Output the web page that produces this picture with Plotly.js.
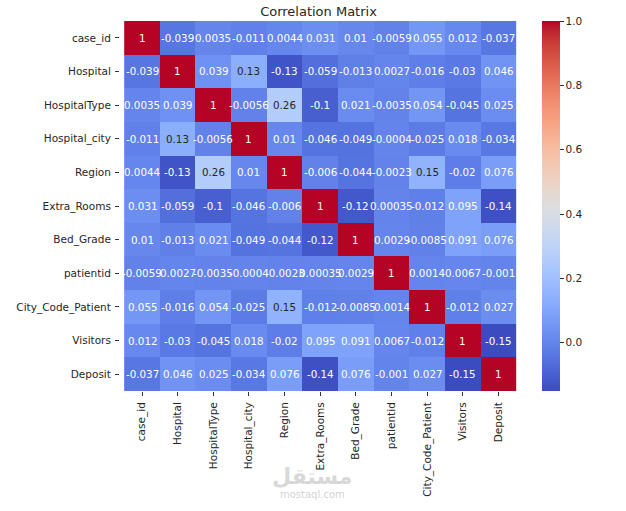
<!DOCTYPE html>
<html>
<head>
<meta charset="utf-8">
<script src="https://cdn.plot.ly/plotly-3.0.1.min.js"></script>
<style>
  html, body { margin: 0; padding: 0; background: #fff; }
  #chart { width: 626px; height: 511px; }
</style>
</head>
<body>
<div id="chart"></div>
<script>
// Feature names (rows and columns of the correlation matrix)
const features = ["case_id", "Hospital", "HospitalType", "Hospital_city", "Region",
  "Extra_Rooms", "Bed_Grade", "patientid", "City_Code_Patient", "Visitors", "Deposit"];

// Correlation coefficients, one row per feature
const rowCaseId       = [1, -0.039, 0.0035, -0.011, 0.0044, 0.031, 0.01, -0.0059, 0.055, 0.012, -0.037];
const rowHospital     = [-0.039, 1, 0.039, 0.13, -0.13, -0.059, -0.013, 0.0027, -0.016, -0.03, 0.046];
const rowHospitalType = [0.0035, 0.039, 1, -0.0056, 0.26, -0.1, 0.021, -0.0035, 0.054, -0.045, 0.025];
const rowHospitalCity = [-0.011, 0.13, -0.0056, 1, 0.01, -0.046, -0.049, -0.0004, -0.025, 0.018, -0.034];
const rowRegion       = [0.0044, -0.13, 0.26, 0.01, 1, -0.006, -0.044, -0.0023, 0.15, -0.02, 0.076];
const rowExtraRooms   = [0.031, -0.059, -0.1, -0.046, -0.006, 1, -0.12, 0.00035, -0.012, 0.095, -0.14];
const rowBedGrade     = [0.01, -0.013, 0.021, -0.049, -0.044, -0.12, 1, 0.0029, -0.0085, 0.091, 0.076];
const rowPatientId    = [-0.0059, 0.0027, -0.0035, -0.0004, -0.0023, 0.00035, 0.0029, 1, 0.0014, 0.0067, -0.001];
const rowCityCode     = [0.055, -0.016, 0.054, -0.025, 0.15, -0.012, -0.0085, 0.0014, 1, -0.012, 0.027];
const rowVisitors     = [0.012, -0.03, -0.045, 0.018, -0.02, 0.095, 0.091, 0.0067, -0.012, 1, -0.15];
const rowDeposit      = [-0.037, 0.046, 0.025, -0.034, 0.076, -0.14, 0.076, -0.001, 0.027, -0.15, 1];

const colorbarTicks = [0, 0.2, 0.4, 0.6, 0.8, 1.0];

const corr = [rowCaseId, rowHospital, rowHospitalType, rowHospitalCity, rowRegion,
  rowExtraRooms, rowBedGrade, rowPatientId, rowCityCode, rowVisitors, rowDeposit];

// Diverging "coolwarm" palette
const coolwarmRGB = [
  [59,76,192],[68,90,204],[77,104,215],[87,117,225],[98,130,234],[108,142,241],
  [119,154,247],[130,165,251],[141,176,254],[152,185,255],[163,194,255],[174,201,253],
  [184,208,249],[194,213,244],[204,217,238],[213,219,230],[221,221,221],[229,216,209],
  [236,211,197],[241,204,185],[245,196,173],[247,187,160],[247,177,148],[247,166,135],
  [244,154,123],[241,141,111],[236,127,99],[229,112,88],[222,96,77],[213,80,66],
  [203,62,56],[192,40,47],[180,4,38]
];
const n = coolwarmRGB.length - 1;
const coolwarm = coolwarmRGB.map((c, i) => [i / n, `rgb(${c[0]},${c[1]},${c[2]})`]);

const zmin = Math.min(...corr.flat());
const zmax = Math.max(...corr.flat());

function colorAt(v) {
  const t = Math.max(0, Math.min(1, (v - zmin) / (zmax - zmin))) * n;
  const i = Math.min(n - 1, Math.floor(t));
  const f = t - i;
  const a = coolwarmRGB[i], b = coolwarmRGB[i + 1];
  return [0, 1, 2].map(k => a[k] + (b[k] - a[k]) * f);
}
function luminance(rgb) {
  const lin = rgb.map(c => {
    c /= 255;
    return c <= 0.03928 ? c / 12.92 : Math.pow((c + 0.055) / 1.055, 2.4);
  });
  return 0.2126 * lin[0] + 0.7152 * lin[1] + 0.0722 * lin[2];
}
function fmt(v) {
  return String(Number(v.toPrecision(2)));
}

const tickFont = { family: "DejaVu Sans", size: 10.5, color: "#262626" };

// Cell value labels, dark text on light cells and white text on dark ones
const annotations = [];
corr.forEach((row, i) => {
  row.forEach((v, j) => {
    annotations.push({
      x: features[j], y: features[i], xref: "x", yref: "y",
      text: fmt(v), showarrow: false,
      font: { family: "DejaVu Sans", size: 10.3,
              color: luminance(colorAt(v)) > 0.408 ? "#262626" : "#ffffff" }
    });
  });
});

// Faint site mark beneath the chart
annotations.push({
  xref: "paper", yref: "paper", x: 0.484, y: -0.232, xanchor: "center", yanchor: "middle",
  text: "<b>مستقل</b>", showarrow: false,
  font: { family: "DejaVu Sans", size: 22, color: "rgba(190,190,190,0.6)" }
});
annotations.push({
  xref: "paper", yref: "paper", x: 0.484, y: -0.281, xanchor: "center", yanchor: "middle",
  text: "mostaql.com", showarrow: false,
  font: { family: "DejaVu Sans", size: 10, color: "rgba(195,195,195,0.75)" }
});

const trace = {
  type: "heatmap",
  x: features,
  y: features,
  z: corr,
  zmin: zmin,
  zmax: zmax,
  colorscale: coolwarm,
  colorbar: {
    thickness: 18,
    len: 1, lenmode: "fraction",
    x: 1.063, xanchor: "left", xpad: 0,
    y: 1, yanchor: "top", ypad: 0,
    outlinewidth: 0,
    tickvals: colorbarTicks,
    ticktext: colorbarTicks.map(v => v.toFixed(1)),
    ticks: "outside", ticklen: 4, tickwidth: 1, tickcolor: "#333",
    ticklabelstandoff: 2,
    tickfont: tickFont
  }
};

const layout = {
  width: 626,
  height: 511,
  margin: { l: 120, r: 109, t: 21, b: 120 },
  paper_bgcolor: "#ffffff",
  plot_bgcolor: "#ffffff",
  title: {
    text: "Correlation Matrix",
    font: { family: "DejaVu Sans", size: 13, color: "#262626" },
    x: 0.5, xref: "paper", xanchor: "center",
    y: 0.977, yref: "container", yanchor: "middle"
  },
  xaxis: {
    type: "category",
    tickangle: -90,
    ticks: "outside", ticklen: 4, tickcolor: "#333",
    ticklabelstandoff: 2,
    tickfont: tickFont,
    showgrid: false, zeroline: false, showline: false
  },
  yaxis: {
    type: "category",
    autorange: "reversed",
    ticks: "outside", ticklen: 4, tickcolor: "#333",
    ticklabelstandoff: 2,
    tickfont: tickFont,
    showgrid: false, zeroline: false, showline: false
  },
  annotations: annotations,
  showlegend: false
};

Plotly.newPlot("chart", [trace], layout, { displayModeBar: false, staticPlot: true });
</script>
</body>
</html>
